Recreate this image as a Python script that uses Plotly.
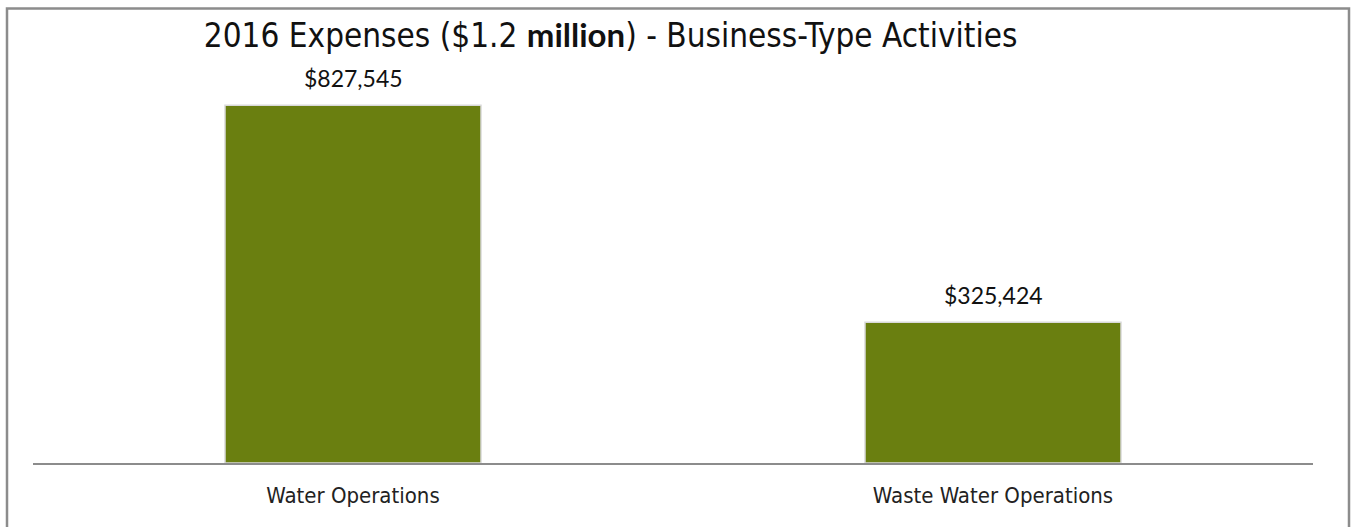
import plotly.graph_objects as go

# Business-type activity expenses, 2016
categories = ["Water Operations", "Waste Water Operations"]
expenses = [827545, 325424]
value_labels = ["$827,545", "$325,424"]

bar_color = "#6a7f10"
narrow = "DejaVu Sans Condensed, Liberation Sans Narrow, Arial Narrow, sans-serif"
label_font = "Lato, Calibri, sans-serif"

fig = go.Figure(
    go.Bar(
        x=categories,
        y=expenses,
        marker=dict(color=bar_color, line=dict(color="#d9d9d9", width=1.5)),
        width=0.4,
    )
)

# value labels sit a fixed distance above each bar
for cat, val, lab in zip(categories, expenses, value_labels):
    fig.add_annotation(
        x=cat, y=val, text=lab, showarrow=False, yshift=27,
        font=dict(family=label_font, size=23, color="#111111"),
    )

fig.update_layout(
    width=1351,
    height=527,
    margin=dict(l=33, r=38, t=60, b=64),
    paper_bgcolor="white",
    plot_bgcolor="white",
    showlegend=False,
    title=dict(
        text="2016 Expenses ($1.2 <span style='font-family:Lato, Calibri, sans-serif;font-weight:bold'>million</span>) - Business-Type Activities",
        font=dict(family=narrow, size=33, color="#111111"),
        x=0.452,
        xanchor="center",
        y=0.933,
        yanchor="middle",
    ),
    xaxis=dict(
        showline=True,
        linecolor="#8c8c8c",
        linewidth=2,
        ticks="outside",
        ticklen=12,
        tickcolor="rgba(0,0,0,0)",
        tickfont=dict(family=narrow, size=22, color="#222222"),
        showgrid=False,
    ),
    yaxis=dict(
        range=[0, 932000],
        visible=False,
        showgrid=False,
        zeroline=False,
    ),
    shapes=[
        dict(
            type="rect",
            xref="paper",
            yref="paper",
            x0=-26 / 1280,
            x1=1 + 36 / 1280,
            y0=-80 / 403,
            y1=1 + 51.5 / 403,
            line=dict(color="#8c8c8c", width=2.5),
            fillcolor="rgba(0,0,0,0)",
            layer="below",
        )
    ],
)

fig.write_html("out.html")
